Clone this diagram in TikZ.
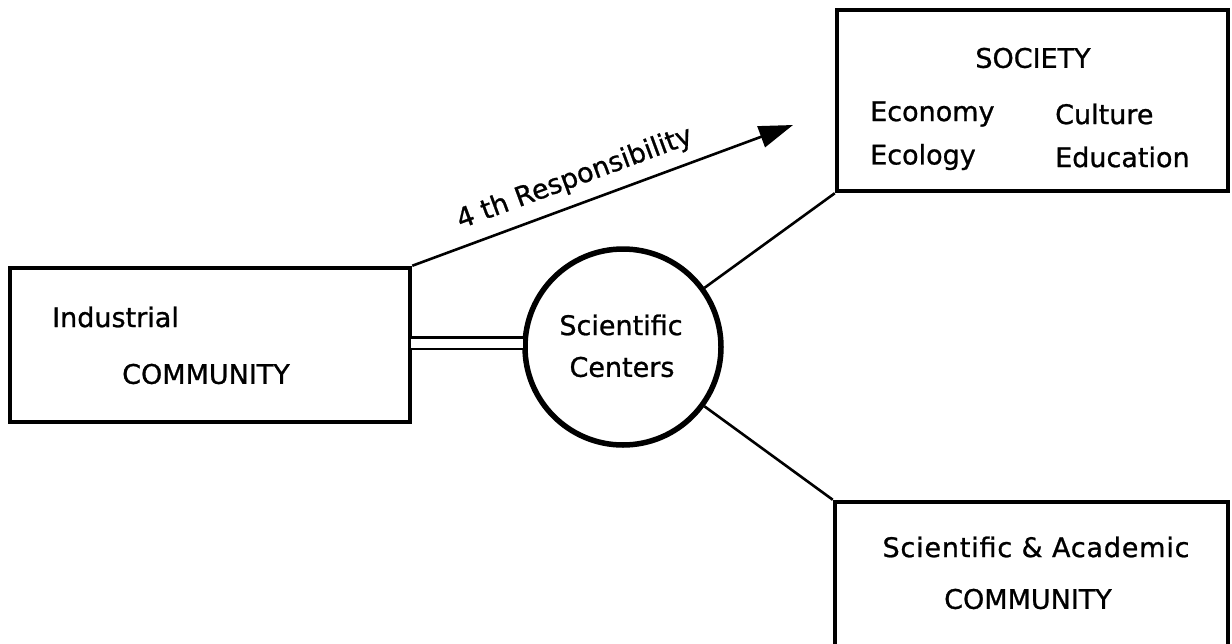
\documentclass[tikz,border=0pt]{standalone}
\usepackage{fontspec}
\setmainfont{DejaVu Sans}
\newfontfamily\lblfont[FakeBold=0.9]{DejaVu Sans}
\usetikzlibrary{arrows.meta}
\begin{document}
\begin{tikzpicture}[x=1pt,y=-1pt,
  box/.style={draw, line width=4.5pt, rectangle, inner sep=0pt},
  circ/.style={draw, line width=5.5pt, circle, inner sep=0pt, minimum size=196pt},
  conn/.style={line width=2.6pt},
  lbl/.style={font=\lblfont\fontsize{27}{32}\selectfont, inner sep=0pt},
]
\clip (0,0) rectangle (1232,643);
\fill[white] (0,0) rectangle (1232,643);
% boxes
\node[box, minimum width=400pt, minimum height=154pt] (ind) at (210,345) {};
\node[box, minimum width=391pt, minimum height=181pt] (soc) at (1032.5,100.5) {};
\node[box, minimum width=393pt, minimum height=218pt] (sac) at (1031.5,611) {};
\node[circ] (sc) at (623,347) {};
% connectors
\draw[line width=2.6pt, double, double distance=9pt, shorten <=-1pt, shorten >=-1pt] (ind.east |- 0,343) coordinate (d1) -- (d1 -| sc.west);
\draw[conn] (sc) -- (soc.south west);
\draw[conn] (sc) -- (sac.north west);
\coordinate (tip) at (793,125);
\draw[conn, -{Triangle[length=34pt,width=22pt]}] (ind.north east) -- (tip)
  node[lbl, sloped, above, pos=0.45, yshift=11pt] (resp) {4 th Responsibility};
% texts
\node[lbl] (t1) at (1033,58) {SOCIETY};
\node[lbl, anchor=west] (t2) at (870,114) {Economy};
\node[lbl, anchor=west] (t3) at (1055,114) {Culture};
\node[lbl, anchor=west] (t4) at (870,157) {Ecology};
\node[lbl, anchor=west] (t5) at (1055,157) {Education};
\node[lbl, anchor=west] (t6) at (52,317) {Industrial};
\node[lbl, anchor=west] (t7) at (122,374) {COMMUNITY};
\node[lbl] (t8) at (621,325) {Scientific};
\node[lbl] (t9) at (622,367) {Centers};
\node[lbl] (t10) at (1036,547) {\addfontfeature{LetterSpace=3}Scientific \& Academic};
\node[lbl] (t11) at (1028,599) {COMMUNITY};
\end{tikzpicture}
\end{document}
